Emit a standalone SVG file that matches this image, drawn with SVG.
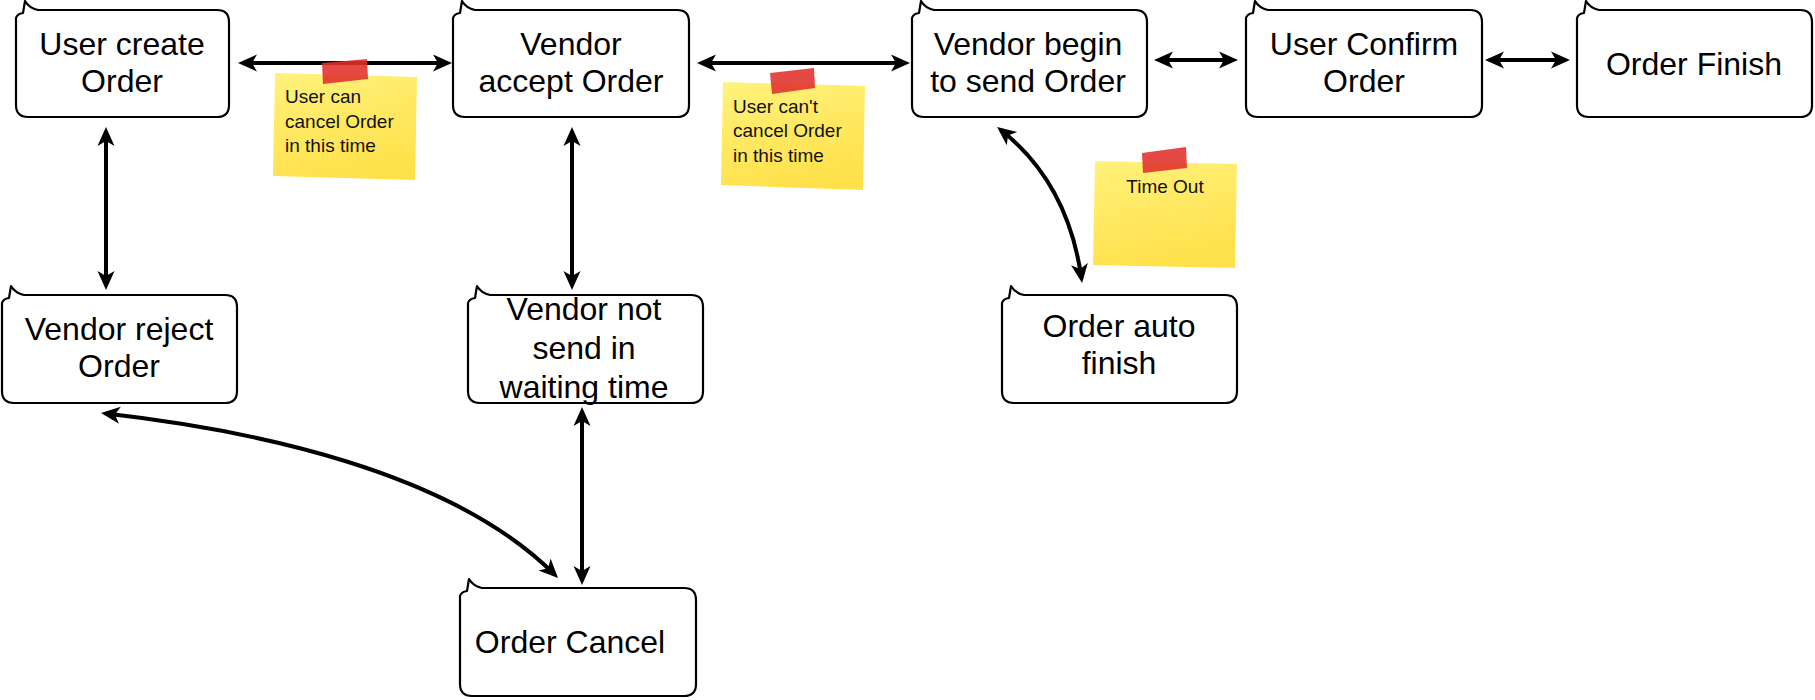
<svg xmlns="http://www.w3.org/2000/svg" width="1815" height="700" viewBox="0 0 1815 700">
<style>
.box{fill:#fff;stroke:#000;stroke-width:2.2;stroke-linejoin:round}
.lbl{font-family:"Liberation Sans",Arial,sans-serif;font-size:32px;fill:#000;text-anchor:middle}
.note{font-family:"Liberation Sans",Arial,sans-serif;font-size:19px;fill:#111}
.conn{fill:none;stroke:#000;stroke-width:4;marker-start:url(#ah);marker-end:url(#ah)}
.paper{fill:url(#yel)}
.tape{fill:#e0302a;fill-opacity:0.88}
</style>
<defs>
<marker id="ah" markerUnits="userSpaceOnUse" markerWidth="20" markerHeight="20" viewBox="0 0 20 20" refX="14" refY="10" orient="auto-start-reverse">
<path d="M0,1.5 L19,10 L0,18.5 L5,10 Z" fill="#000"/>
</marker>
<linearGradient id="yel" x1="0" y1="0" x2="0.3" y2="1">
<stop offset="0" stop-color="#fff27c"/>
<stop offset="1" stop-color="#ffe14c"/>
</linearGradient>
</defs>

<g id="connectors">
<path class="conn" d="M243,63 L447,63"/>
<path class="conn" d="M702,63 L905,63"/>
<path class="conn" d="M1159,60 L1233,60"/>
<path class="conn" d="M1490,60 L1565,60"/>
<path class="conn" d="M106,132 L106,285"/>
<path class="conn" d="M572,132 L572,285"/>
<path class="conn" d="M582,412 L582,580"/>
<path class="conn" d="M106,413.6 C250,430 450,470 554.5,574.5"/>
<path class="conn" d="M1001,130 Q1068,183 1081.4,278"/>
</g>

<g id="note1">
<polygon class="paper" points="275,73 417,77 415,180 273,176"/>
<polygon class="tape" points="322,63 367,59 368,79 323,84"/>
<text class="note" x="285" y="103">User can</text>
<text class="note" x="285" y="128">cancel Order</text>
<text class="note" x="285" y="152">in this time</text>
</g>
<g id="note2">
<polygon class="paper" points="723,82 865,86 863,190 721,185"/>
<polygon class="tape" points="770,73 814,68 815,88 772,94"/>
<text class="note" x="733" y="113">User can't</text>
<text class="note" x="733" y="137">cancel Order</text>
<text class="note" x="733" y="162">in this time</text>
</g>
<g id="note3">
<polygon class="paper" points="1095,161 1237,164 1235,268 1093,265"/>
<polygon class="tape" points="1142,153 1186,147 1187,168 1143,173"/>
<text class="note" x="1165" y="193" text-anchor="middle">Time Out</text>
</g>

<g id="n1" transform="translate(16,10)">
<path class="box" d="M0,8 Q1,4 7,3 L9,-9 Q13,-2 22,0 L201,0 Q213,0 213,12 L213,95 Q213,107 201,107 L12,107 Q0,107 0,95 Z"/>
<text class="lbl" x="106" y="45">User create</text>
<text class="lbl" x="106" y="82">Order</text>
</g>
<g id="n2" transform="translate(453,10)">
<path class="box" d="M0,8 Q1,4 7,3 L9,-9 Q13,-2 22,0 L224,0 Q236,0 236,12 L236,95 Q236,107 224,107 L12,107 Q0,107 0,95 Z"/>
<text class="lbl" x="118" y="45">Vendor</text>
<text class="lbl" x="118" y="82">accept Order</text>
</g>
<g id="n3" transform="translate(912,10)">
<path class="box" d="M0,8 Q1,4 7,3 L9,-9 Q13,-2 22,0 L223,0 Q235,0 235,12 L235,95 Q235,107 223,107 L12,107 Q0,107 0,95 Z"/>
<text class="lbl" x="116" y="45">Vendor begin</text>
<text class="lbl" x="116" y="82">to send Order</text>
</g>
<g id="n4" transform="translate(1246,10)">
<path class="box" d="M0,8 Q1,4 7,3 L9,-9 Q13,-2 22,0 L224,0 Q236,0 236,12 L236,95 Q236,107 224,107 L12,107 Q0,107 0,95 Z"/>
<text class="lbl" x="118" y="45">User Confirm</text>
<text class="lbl" x="118" y="82">Order</text>
</g>
<g id="n5" transform="translate(1577,10)">
<path class="box" d="M0,8 Q1,4 7,3 L9,-9 Q13,-2 22,0 L223,0 Q235,0 235,12 L235,95 Q235,107 223,107 L12,107 Q0,107 0,95 Z"/>
<text class="lbl" x="117" y="65">Order Finish</text>
</g>
<g id="n6" transform="translate(2,295)">
<path class="box" d="M0,8 Q1,4 7,3 L9,-9 Q13,-2 22,0 L223,0 Q235,0 235,12 L235,96 Q235,108 223,108 L12,108 Q0,108 0,96 Z"/>
<text class="lbl" x="117" y="45">Vendor reject</text>
<text class="lbl" x="117" y="82">Order</text>
</g>
<g id="n7" transform="translate(468,295)">
<path class="box" d="M0,8 Q1,4 7,3 L9,-9 Q13,-2 22,0 L223,0 Q235,0 235,12 L235,96 Q235,108 223,108 L12,108 Q0,108 0,96 Z"/>
<text class="lbl" x="116" y="25">Vendor not</text>
<text class="lbl" x="116" y="64">send in</text>
<text class="lbl" x="116" y="103">waiting time</text>
</g>
<g id="n8" transform="translate(1002,295)">
<path class="box" d="M0,8 Q1,4 7,3 L9,-9 Q13,-2 22,0 L223,0 Q235,0 235,12 L235,96 Q235,108 223,108 L12,108 Q0,108 0,96 Z"/>
<text class="lbl" x="117" y="42">Order auto</text>
<text class="lbl" x="117" y="79">finish</text>
</g>
<g id="n9" transform="translate(460,588)">
<path class="box" d="M0,8 Q1,4 7,3 L9,-9 Q13,-2 22,0 L224,0 Q236,0 236,12 L236,96 Q236,108 224,108 L12,108 Q0,108 0,96 Z"/>
<text class="lbl" x="110" y="65">Order Cancel</text>
</g>
</svg>
